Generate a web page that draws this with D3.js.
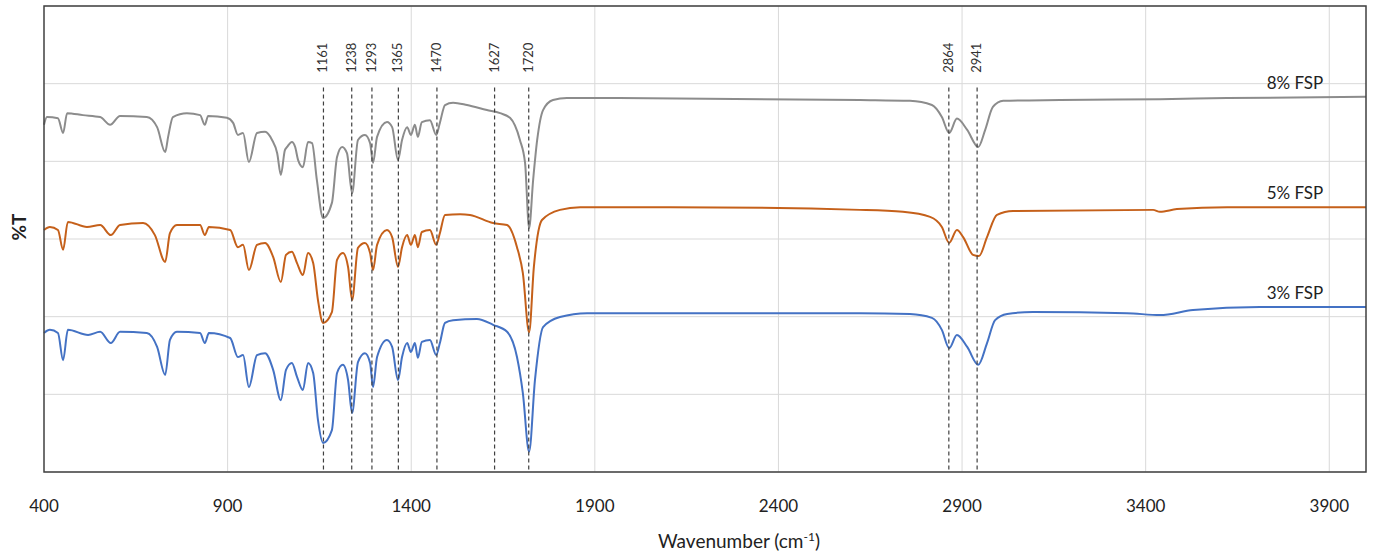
<!DOCTYPE html>
<html>
<head>
<meta charset="utf-8">
<script src="https://cdn.jsdelivr.net/npm/d3@7"></script>
<style>
  html, body { margin: 0; padding: 0; background: #fff; }
  svg { display: block; }
</style>
</head>
<body>
<svg id="chart" width="1375" height="556"></svg>
<script>
// ---- data (wavenumber cm-1, %T with vertical offsets) ----
const xTicks = [400, 900, 1400, 1900, 2400, 2900, 3400, 3900];
const yGrid = [0, 20, 40, 60, 80, 100, 120];
const peaks = [1161, 1238, 1293, 1365, 1470, 1627, 1720, 2864, 2941];
const seriesNames = ["8% FSP", "5% FSP", "3% FSP"];
const seriesColors = ["#8c8c8c", "#c5601a", "#4472c4"];

const fsp8 = [
  [400,89.4],[408,91.4],[438,91.1],[452,87.3],[463,92.4],[506,91.9],[553,91.4],[580,89.4],[607,91.7],
  [680,91.4],[708,88.8],[730,82.4],[738,86.3],[751,91.4],[789,92.4],[825,91.9],[838,89.4],[847,91.7],
  [898,91.2],[915,89.9],[928,86.8],[942,87.3],[958,79.8],[980,87.3],[1002,87.6],[1021,85.5],[1035,82.1],
  [1045,76.5],[1056,82.9],[1062,83.7],[1075,85.0],[1084,83.7],[1092,80.3],[1105,78.5],[1119,85.0],
  [1130,84.7],[1143,75.2],[1160,65.4],[1184,69.3],[1198,81.1],[1212,83.7],[1225,82.1],[1239,71.8],
  [1255,85.5],[1274,86.8],[1288,84.7],[1296,79.6],[1307,86.3],[1334,90.1],[1348,88.8],[1364,80.3],
  [1375,85.5],[1389,88.8],[1399,86.8],[1410,89.4],[1418,86.3],[1429,90.1],[1451,90.6],[1468,86.8],
  [1478,89.9],[1492,94.5],[1514,95.1],[1552,94.5],[1606,93.2],[1642,92.4],[1669,91.2],[1696,85.5],
  [1710,79.6],[1721,62.8],[1732,75.2],[1743,85.5],[1759,93.2],[1786,95.8],[1824,96.3],[1914,96.3],
  [2622,95.8],[2758,95.6],[2818,94.5],[2845,91.4],[2865,87.3],[2886,91.0],[2914,88.1],[2944,83.7],
  [2963,88.1],[2984,94.0],[3012,95.6],[3167,95.8],[3439,96.0],[3622,96.3],[4000,96.6]
];

const fsp5 = [
  [400,62.3],[416,63.1],[438,62.3],[452,57.2],[465,64.4],[517,63.1],[553,63.6],[582,61.0],[607,63.6],
  [670,64.1],[702,61.0],[730,54.1],[743,61.5],[762,63.6],[825,63.6],[838,61.0],[849,63.1],[907,62.3],
  [928,57.9],[942,58.5],[958,52.0],[980,58.5],[1002,59.0],[1024,55.4],[1045,48.9],[1059,55.9],
  [1075,56.7],[1089,53.8],[1105,50.7],[1119,56.4],[1133,53.8],[1146,44.3],[1160,38.4],[1184,41.2],
  [1198,54.6],[1214,56.4],[1228,52.8],[1239,44.3],[1255,57.7],[1274,59.0],[1288,56.4],[1296,52.0],
  [1307,58.5],[1334,62.3],[1348,60.5],[1364,52.8],[1375,57.9],[1389,61.0],[1399,58.5],[1410,61.0],
  [1418,57.9],[1429,61.8],[1451,62.3],[1468,58.5],[1478,61.5],[1492,66.2],[1533,66.4],[1560,66.2],
  [1623,64.1],[1661,63.6],[1688,57.9],[1704,51.2],[1721,36.0],[1734,52.8],[1756,64.9],[1805,67.5],
  [1860,68.2],[2105,68.2],[2622,67.5],[2739,67.0],[2813,65.7],[2845,63.1],[2865,59.0],[2886,62.3],
  [2903,60.5],[2930,55.9],[2946,55.6],[2968,60.5],[2995,66.2],[3039,67.2],[3420,67.5],[3439,67.0],
  [3485,67.7],[3622,68.2],[4000,68.2]
];

const fsp3 = [
  [400,35.8],[416,36.6],[438,35.8],[452,28.8],[465,36.6],[520,35.3],[553,36.1],[582,33.2],[607,36.1],
  [680,35.8],[708,32.2],[730,25.0],[743,34.0],[762,36.1],[825,35.8],[838,33.2],[849,35.8],[907,34.5],
  [928,29.6],[942,30.1],[958,21.9],[980,30.1],[1002,30.6],[1024,26.3],[1045,18.5],[1059,26.3],
  [1075,28.1],[1089,24.5],[1105,21.1],[1119,28.1],[1133,25.5],[1146,13.4],[1160,7.5],[1184,10.8],
  [1198,25.5],[1214,27.6],[1228,23.7],[1239,15.2],[1255,28.3],[1274,30.6],[1288,28.1],[1296,21.9],
  [1307,29.6],[1334,34.0],[1348,32.2],[1364,23.7],[1375,29.6],[1389,33.2],[1399,30.9],[1410,33.2],
  [1418,29.4],[1429,33.5],[1451,34.0],[1468,30.1],[1478,33.2],[1492,38.4],[1514,39.1],[1579,39.4],
  [1623,37.9],[1661,36.1],[1688,29.6],[1704,20.3],[1721,5.2],[1737,23.7],[1759,37.3],[1805,39.9],
  [1879,40.9],[2105,40.9],[2622,40.9],[2758,40.7],[2818,39.7],[2845,36.6],[2865,31.9],[2886,35.3],
  [2914,32.2],[2944,27.6],[2968,33.2],[2990,39.1],[3023,40.7],[3093,41.2],[3349,40.9],[3439,40.4],
  [3529,41.7],[3711,42.5],[4000,42.5]
];

const seriesData = [fsp8, fsp5, fsp3];

// ---- layout ----
const svg = d3.select("#chart");
const margin = { left: 44, right: 9, top: 6, bottom: 84 };
const W = 1375, H = 556;
const x = d3.scaleLinear().domain([400, 4000]).range([margin.left, W - margin.right]);
const y = d3.scaleLinear().domain([0, 120]).range([H - margin.bottom, margin.top]);

const font = "Lato, 'Open Sans', sans-serif";

// gridlines
svg.append("g").selectAll("line.h").data(yGrid).join("line")
  .attr("x1", x(400)).attr("x2", x(4000))
  .attr("y1", d => y(d)).attr("y2", d => y(d))
  .attr("stroke", "#d9d9d9").attr("stroke-width", 1);
svg.append("g").selectAll("line.v").data(xTicks.filter(d => d > 400)).join("line")
  .attr("x1", d => x(d)).attr("x2", d => x(d))
  .attr("y1", y(0)).attr("y2", y(120))
  .attr("stroke", "#d9d9d9").attr("stroke-width", 1);

// series
const line = d3.line().x(d => x(d[0])).y(d => y(d[1])).curve(d3.curveMonotoneX);
seriesData.forEach((s, i) => {
  svg.append("path").datum(s)
    .attr("d", line)
    .attr("fill", "none")
    .attr("stroke", seriesColors[i])
    .attr("stroke-width", 2)
    .attr("stroke-linejoin", "round");
});

// peak dashed lines
svg.append("g").selectAll("line").data(peaks).join("line")
  .attr("x1", d => x(d)).attr("x2", d => x(d))
  .attr("y1", y(99)).attr("y2", y(0))
  .attr("stroke", "#404040").attr("stroke-width", 1.2)
  .attr("stroke-dasharray", "4,3");

// peak labels
svg.append("g").selectAll("text").data(peaks).join("text")
  .attr("transform", d => `translate(${x(d) + 4},${y(102.8)}) rotate(-90)`)
  .attr("text-anchor", "start")
  .attr("font-family", font).attr("font-size", 13)
  .attr("fill", "#333")
  .text(d => d);

// plot border
svg.append("rect")
  .attr("x", x(400)).attr("y", y(120))
  .attr("width", x(4000) - x(400)).attr("height", y(0) - y(120))
  .attr("fill", "none").attr("stroke", "#404040").attr("stroke-width", 1.5);

// x tick labels
svg.append("g").selectAll("text").data(xTicks).join("text")
  .attr("x", d => x(d)).attr("y", y(0) + 40)
  .attr("text-anchor", "middle")
  .attr("font-family", font).attr("font-size", 17)
  .attr("fill", "#222")
  .text(d => d);

// series labels
const labelVals = [fsp8, fsp5, fsp3].map(s => s[s.length - 1][1]);
svg.append("g").selectAll("text").data(seriesNames).join("text")
  .attr("x", x(3900) - 6)
  .attr("y", (d, i) => y(labelVals[i]) - 8)
  .attr("text-anchor", "end")
  .attr("font-family", font).attr("font-size", 17)
  .attr("fill", "#222")
  .text(d => d);

// axis titles
const xt = svg.append("text")
  .attr("x", (x(400) + x(4000)) / 2 + 34).attr("y", y(0) + 76)
  .attr("text-anchor", "middle")
  .attr("font-family", font).attr("font-size", 19)
  .attr("fill", "#222");
xt.append("tspan").text("Wavenumber (cm");
xt.append("tspan").attr("font-size", 12).attr("dy", -7).text("-1");
xt.append("tspan").attr("dy", 7).text(")");

svg.append("text")
  .attr("transform", `translate(26,${(y(0) + y(120)) / 2 - 12}) rotate(-90)`)
  .attr("text-anchor", "middle")
  .attr("font-family", font).attr("font-size", 19).attr("font-weight", "bold")
  .attr("fill", "#222")
  .text("%T");
</script>
</body>
</html>
